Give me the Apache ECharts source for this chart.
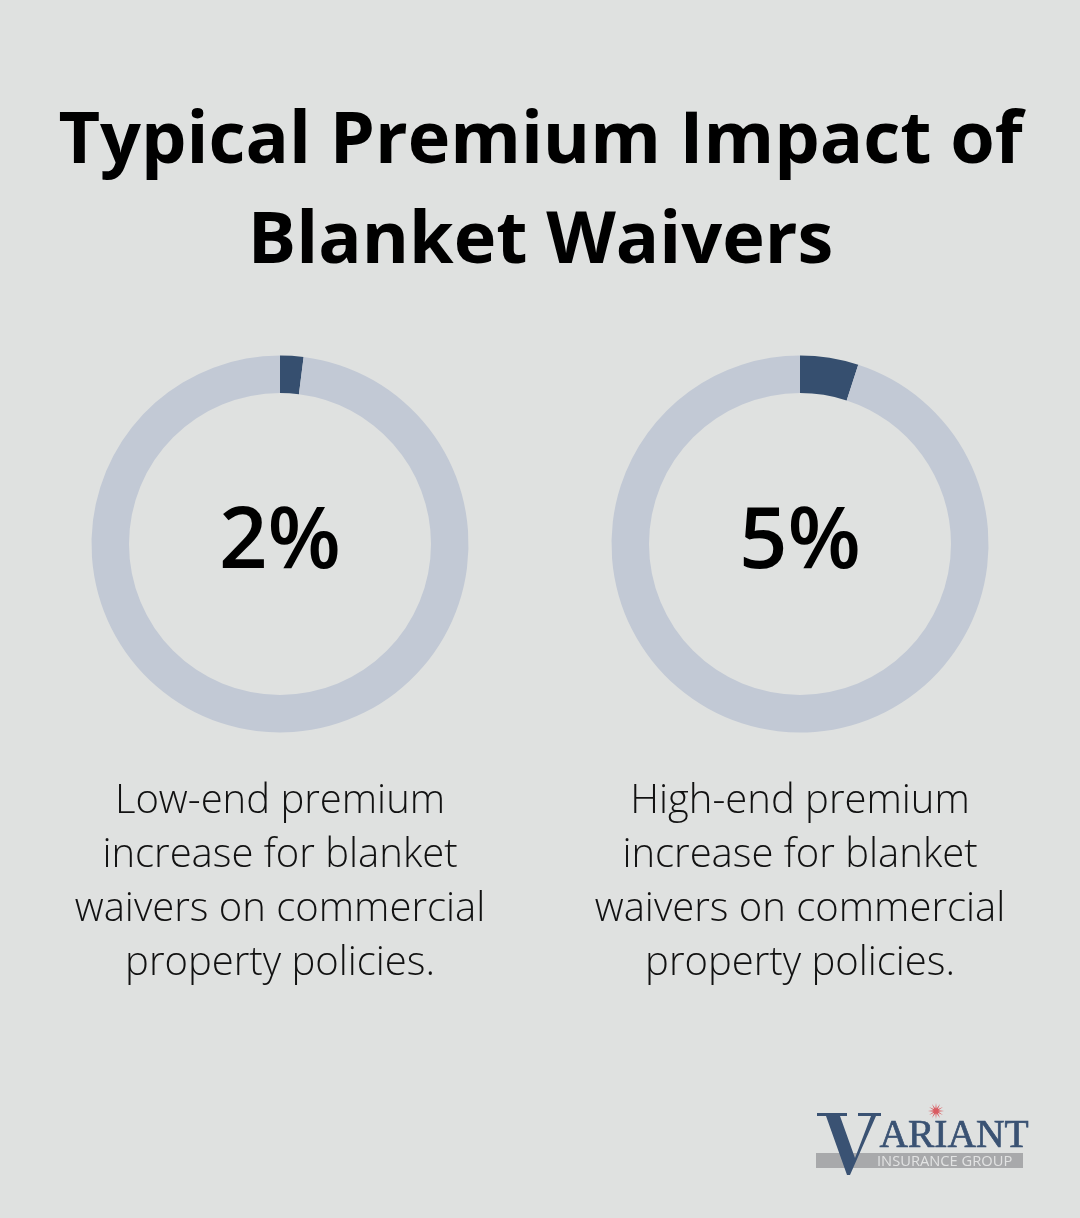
<!DOCTYPE html>
<html><head><meta charset="utf-8">
<style>html,body{margin:0;padding:0;background:#dfe1e0}#c{width:1080px;height:1218px}</style>
<script src="https://cdn.jsdelivr.net/npm/echarts@6/dist/echarts.min.js"></script>
</head><body><div id="c"></div>
<script>
const titleLines = ["Typical Premium Impact of", "Blanket Waivers"];
const percents = [2, 5];
const captions = [
 ["Low-end premium", "increase for blanket", "waivers on commercial", "property policies."],
 ["High-end premium", "increase for blanket", "waivers on commercial", "property policies."]
];
const logoMain = "ARIANT";
const logoSub = "INSURANCE GROUP";
const FONT = '"Open Sans"';
const chart = echarts.init(document.getElementById('c'), null, {renderer:'canvas'});
const centers = [280, 800];
const series = percents.map((p,i)=>({
  type:'pie', silent:true, center:[centers[i],544], radius:[151,188.5], startAngle:90,
  label:{show:false}, labelLine:{show:false}, emphasis:{disabled:true},
  data:[{value:p,itemStyle:{color:'#364f6f'}},{value:100-p,itemStyle:{color:'#c2c9d5'}}]
}));
const graphic = [];
titleLines.forEach((t,i)=>graphic.push({type:'text',x:540.5,y:142.5+i*100,style:{text:t,font:'700 72px '+FONT,fill:'#000',align:'center',verticalAlign:'middle'}}));
percents.forEach((p,i)=>graphic.push({type:'text',x:centers[i],y:544,style:{text:p+'%',font:'600 85px '+FONT,fill:'#000',align:'center',verticalAlign:'middle'}}));
captions.forEach((c,i)=>c.forEach((t,j)=>graphic.push({type:'text',x:centers[i],y:801.5+j*54,style:{text:t,font:'300 40px '+FONT,fill:'#111',align:'center',verticalAlign:'middle'}})));
graphic.push({type:'rect',shape:{x:816,y:1153,width:207,height:15},style:{fill:'#a8a9ab'}});
graphic.push({type:'polygon',shape:{points:[[817,1113],[847,1113],[847,1116],[840,1116],[855,1158],[871,1116],[858,1116],[858,1113],[881,1113],[881,1116],[876,1116],[850,1175],[847,1175],[826,1116],[817,1116]]},style:{fill:'#3a5273'}});
graphic.push({type:'text',x:879.5,y:1137,style:{text:logoMain,font:'400 39.5px "Liberation Serif"',fill:'#3a5273',stroke:'#3a5273',lineWidth:0.7,align:'left',verticalAlign:'middle'}});
graphic.push({type:'text',x:877,y:1161.5,style:{text:logoSub,font:'400 14.7px '+FONT,fill:'#e2e3e3',align:'left',verticalAlign:'middle'}});
const starPts = [];
for (let k = 0; k < 24; k++) {
  const r = k % 2 ? 2.5 : 8, a = k * Math.PI / 12;
  starPts.push([936 + r * Math.cos(a), 1111 + r * Math.sin(a)]);
}
graphic.push({type:'polygon',shape:{points:starPts},style:{fill:'#d8434a',opacity:0.85}});
chart.setOption({animation:false,backgroundColor:'#dfe1e0',series,graphic});
</script></body></html>
